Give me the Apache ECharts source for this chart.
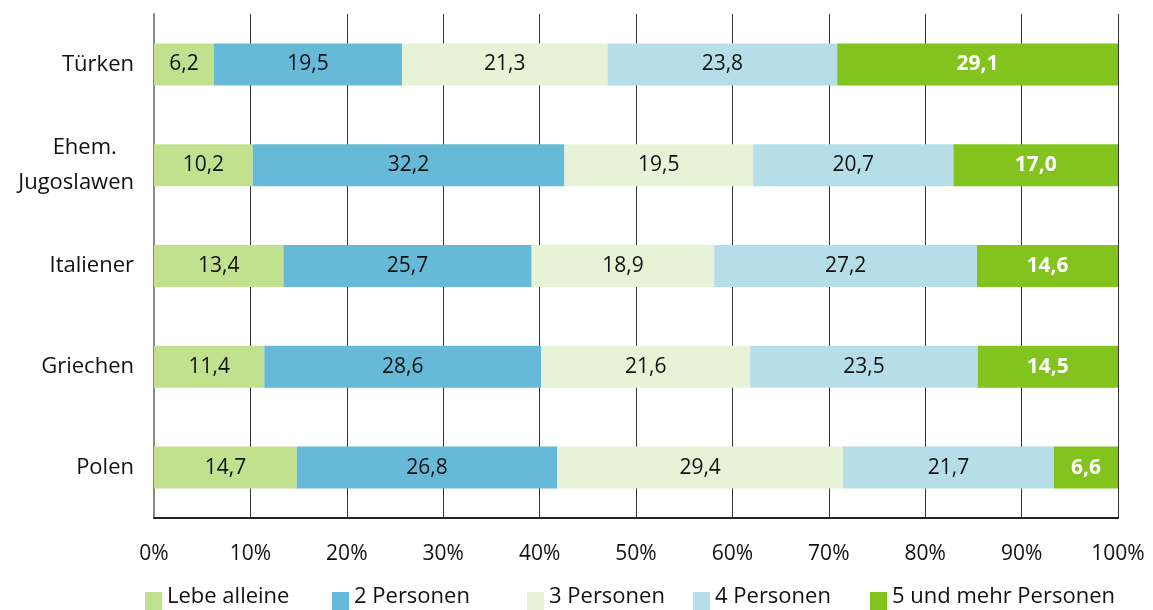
<!DOCTYPE html>
<html><head><meta charset="utf-8">
<script src="https://cdn.jsdelivr.net/npm/echarts@6/dist/echarts.min.js"></script>
<style>html,body{margin:0;padding:0;background:#fff}#c{width:1153px;height:610px}</style>
</head><body><div id="c"></div>
<script>
const categories = ['Türken', 'Ehem.\nJugoslawen', 'Italiener', 'Griechen', 'Polen'];
const seriesNames = ['Lebe alleine', '2 Personen', '3 Personen', '4 Personen', '5 und mehr Personen'];
const alleine = [6.2, 10.2, 13.4, 11.4, 14.7];
const zwei = [19.5, 32.2, 25.7, 28.6, 26.8];
const drei = [21.3, 19.5, 18.9, 21.6, 29.4];
const vier = [23.8, 20.7, 27.2, 23.5, 21.7];
const fuenf = [29.1, 17.0, 14.6, 14.5, 6.6];
const tickLabels = ['0%','10%','20%','30%','40%','50%','60%','70%','80%','90%','100%'];

const colors = ['#c1e18e', '#66bad8', '#e6f3d6', '#b5dee9', '#83c31d'];
const allData = [alleine, zwei, drei, vier, fuenf];
const FONT = '"Open Sans", "Noto Sans", sans-serif';
const legendLeft = [140, 327, 522, 688, 865];

// 100% stacked bars: each row is shown as shares of its total
const rowTotals = categories.map((_, r) => allData.reduce((s, arr) => s + arr[r], 0));

const series = seriesNames.map((n, i) => ({
  name: n, type: 'bar', stack: 'total', barWidth: 42,
  data: allData[i].map((v, r) => ({ value: v / rowTotals[r] * 100, orig: v })),
  itemStyle: { color: colors[i] },
  label: {
    show: true, position: 'inside',
    formatter: p => p.data.orig.toFixed(1).replace('.', ','),
    color: i === 4 ? '#fff' : '#111',
    fontWeight: i === 4 ? 'bold' : 'normal',
    fontFamily: FONT, fontSize: 21
  }
}));

// square sitting low relative to its text (empty speck on top shifts it down)
const legendIcon = 'path://M0,0h0.01v0.01h-0.01z M0,8h17v18h-17z';
const legends = seriesNames.map((n, i) => ({
  data: [n], left: legendLeft[i], top: 579,
  itemWidth: 17, itemHeight: 26, itemGap: 0,
  icon: legendIcon,
  textStyle: { fontFamily: FONT, fontSize: 22, color: '#111', lineHeight: 26 },
  selectedMode: false
}));

const chart = echarts.init(document.getElementById('c'));
chart.setOption({
  animation: false,
  grid: { left: 154, right: 35, top: 14, bottom: 92 },
  legend: legends,
  xAxis: {
    type: 'value', min: 0, max: 100, interval: 10,
    axisLabel: {
      formatter: v => tickLabels[Math.round(v / 10)],
      fontFamily: FONT, fontSize: 21, color: '#111', margin: 26
    },
    axisLine: { show: true, lineStyle: { color: '#222', width: 2 } },
    axisTick: { show: false },
    splitLine: { show: true, lineStyle: { color: '#333', width: 1 } }
  },
  yAxis: {
    type: 'category', data: categories, inverse: true,
    axisLine: { show: true, lineStyle: { color: '#888', width: 2 } },
    axisTick: { show: false },
    axisLabel: {
      fontFamily: FONT, fontSize: 22, color: '#111', margin: 20, lineHeight: 35,
      formatter: v => v.replace('Ehem.', 'Ehem.\u00a0\u00a0\u00a0')
    }
  },
  series: series
});
</script></body></html>
